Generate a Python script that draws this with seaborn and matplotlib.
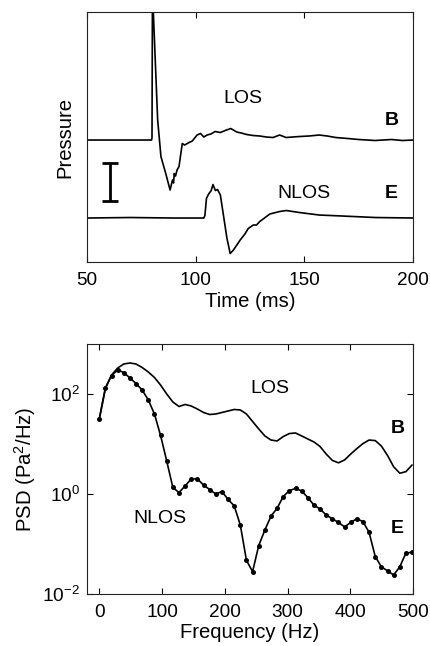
import numpy as np
import matplotlib
matplotlib.use("Agg")
import matplotlib.pyplot as plt
import seaborn as sns
from matplotlib.ticker import NullLocator

# Pressure traces (arbitrary units, deviation from each trace baseline)
los_t = [50, 79.8, 80.0, 80.2, 82.6, 84.1, 86.5, 88.3, 89.4, 89.9,
         90.2, 90.8, 91.5, 92.4, 93.9, 95.0, 97.0, 98.5, 100.7, 102.3,
         103.8, 105.3, 107.0, 109.0, 111.4, 113.6, 116.2, 118.9, 121.0, 123.5,
         126.5, 129.5, 132.5, 135.6, 138.6, 141.6, 144.5, 147.7, 152.0, 156.8,
         160.5, 164.4, 170.0, 175.0, 182.6, 186.0, 190.0, 195.0, 200.0]
los_p = [0.0, 0.0, 0.05, 3.0, 0.4, -0.33, -0.7, -1.0, -0.8, -0.86,
         -0.67, -0.72, -0.6, -0.53, -0.07, -0.1, -0.05, -0.02, 0.1, 0.13,
         0.06, 0.1, 0.12, 0.17, 0.15, 0.19, 0.23, 0.16, 0.14, 0.11,
         0.09, 0.08, 0.06, 0.05, 0.1, 0.05, 0.06, 0.07, 0.08, 0.1,
         0.08, 0.05, 0.03, 0.01, -0.01, 0.0, 0.01, -0.01, 0.0]
nlos_t = [50, 70, 90, 103.8, 104.3, 105.0, 106.0, 107.2, 108.0, 109.1,
          110.1, 111.4, 112.9, 114.4, 115.9, 117.4, 120.5, 122.5, 124.2, 126.5,
          128.0, 129.5, 134.1, 138.6, 141.7, 147.7, 156.8, 167.4, 182.6, 200]
nlos_p = [0.0, 0.01, 0.0, 0.0, 0.05, 0.39, 0.48, 0.55, 0.67, 0.55,
          0.57, 0.46, 0.03, -0.4, -0.71, -0.64, -0.44, -0.33, -0.21, -0.14,
          -0.14, -0.07, 0.08, 0.13, 0.15, 0.11, 0.06, 0.04, 0.01, 0.0]
los_offset = 1.56
scale_t = 60.5
scale_lo, scale_hi = 0.346, 1.10

# PSD (Pa^2/Hz) on the FFT frequency bins
freq = np.arange(52) * 9.766
los_psd = [31.6, 132, 240, 331, 398, 417, 398, 339, 275, 214,
           151, 100, 69.2, 56.2, 61.7, 57.5, 50.1, 42.7, 38.9, 39.8,
           42.7, 45.7, 49.0, 47.9, 39.8, 28.2, 20.0, 14.5, 12.0, 11.5,
           14.1, 16.2, 16.6, 14.5, 12.6, 11.0, 8.9, 6.3, 4.7, 4.2,
           4.8, 6.3, 8.1, 10.2, 12.0, 11.7, 9.1, 5.9, 3.5, 2.6,
           2.8, 3.8]
nlos_psd = [30.9, 128.8, 234, 302, 269, 209, 162, 120, 75.9, 39.8,
            14.8, 4.57, 1.35, 1.07, 1.45, 2.0, 2.0, 1.51, 1.23, 1.0,
            1.12, 0.78, 0.58, 0.24, 0.047, 0.028, 0.093, 0.19, 0.36, 0.52,
            0.89, 1.17, 1.29, 1.15, 0.85, 0.60, 0.50, 0.38, 0.32, 0.27,
            0.22, 0.27, 0.32, 0.28, 0.17, 0.056, 0.035, 0.029, 0.024, 0.035,
            0.066, 0.068]

sns.set_style("ticks")
plt.rcParams["font.family"] = ["Liberation Sans", "DejaVu Sans"]
plt.rcParams["mathtext.fontset"] = "custom"
plt.rcParams["mathtext.rm"] = "Liberation Sans"
plt.rcParams["mathtext.it"] = "Liberation Sans:italic"
plt.rcParams["mathtext.bf"] = "Liberation Sans:bold"
for k in ["text.color", "axes.labelcolor", "xtick.color", "ytick.color"]:
    plt.rcParams[k] = "black"
fs_tick = 13.7
fs_lab = 14.6
fs_txt = 14

fig = plt.figure(figsize=(4.3, 6.46), dpi=100)
ax1 = fig.add_axes([0.2016, 0.5944, 0.7595, 0.387])
ax2 = fig.add_axes([0.2016, 0.0805, 0.7595, 0.387])

# top: pressure time series
sns.lineplot(x=los_t, y=np.array(los_p) + los_offset, ax=ax1, color="black",
             lw=1.2, estimator=None, sort=False)
sns.lineplot(x=nlos_t, y=nlos_p, ax=ax1, color="black", lw=1.2,
             estimator=None, sort=False)
ax1.errorbar([scale_t], [(scale_lo + scale_hi) / 2], yerr=[(scale_hi - scale_lo) / 2],
             color="black", lw=2, capsize=6, capthick=2)
ax1.set_xlim(50, 200)
ax1.set_ylim(-0.88, 4.12)
ax1.set_xticks([50, 100, 150, 200])
ax1.set_yticks([])
ax1.set_xlabel("Time (ms)", fontsize=fs_lab, labelpad=2)
ax1.set_ylabel("Pressure", fontsize=fs_lab, labelpad=9)
ax1.text(121.8, 2.40, "LOS", fontsize=fs_txt, ha="center", va="center")
ax1.text(190, 1.96, "B", fontsize=fs_txt, fontweight="bold", ha="center", va="center")
ax1.text(150, 0.50, "NLOS", fontsize=fs_txt, ha="center", va="center")
ax1.text(190, 0.50, "E", fontsize=fs_txt, fontweight="bold", ha="center", va="center")

# bottom: PSD
sns.lineplot(x=freq, y=los_psd, ax=ax2, color="black", lw=1.2,
             estimator=None, sort=False)
sns.lineplot(x=freq, y=nlos_psd, ax=ax2, color="black", lw=1.2, marker="o",
             markersize=3.6, markeredgewidth=0, estimator=None, sort=False)
ax2.set_yscale("log")
ax2.set_xlim(-20, 500)
ax2.set_ylim(1e-2, 1e3)
ax2.set_xticks([0, 100, 200, 300, 400, 500])
ax2.set_yticks([1e-2, 1, 1e2])
ax2.yaxis.set_minor_locator(NullLocator())
ax2.set_xlabel("Frequency (Hz)", fontsize=fs_lab, labelpad=2)
ax2.set_ylabel("PSD (Pa$^2$/Hz)", fontsize=fs_lab, labelpad=3)
ax2.text(271, 126, "LOS", fontsize=fs_txt, ha="center", va="center")
ax2.text(475, 20.4, "B", fontsize=fs_txt, fontweight="bold", ha="center", va="center")
ax2.text(97, 0.33, "NLOS", fontsize=fs_txt, ha="center", va="center")
ax2.text(475, 0.2, "E", fontsize=fs_txt, fontweight="bold", ha="center", va="center")

for ax in (ax1, ax2):
    ax.tick_params(direction="in", top=True, right=True, length=4, width=0.8,
                   labelsize=fs_tick, pad=7)
    for s in ax.spines.values():
        s.set_linewidth(0.8)
        s.set_color("#222222")
ax2.tick_params(axis="y", pad=5)

fig.savefig("out.png", dpi=100)
